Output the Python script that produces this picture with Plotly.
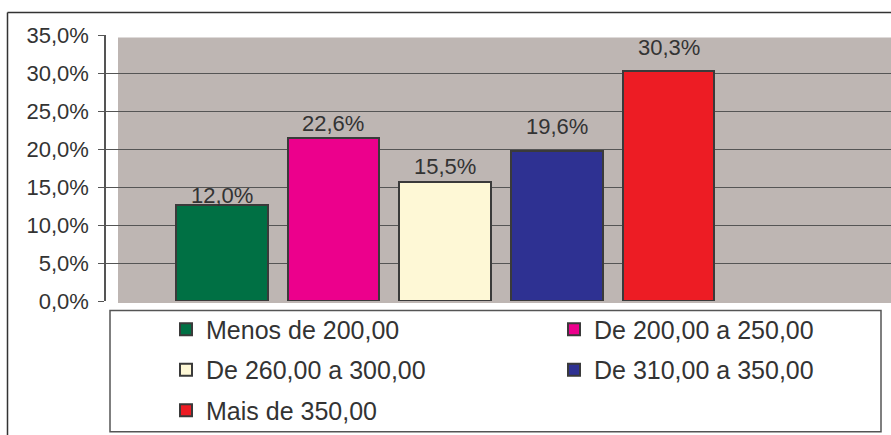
import plotly.graph_objects as go

# ---- data ----
categories = ["Menos de 200,00", "De 200,00 a 250,00", "De 260,00 a 300,00",
              "De 310,00 a 350,00", "Mais de 350,00"]
bar_heights = [12.6, 21.45, 15.6, 19.7, 30.25]          # as drawn (%)
bar_labels = ["12,0%", "22,6%", "15,5%", "19,6%", "30,3%"]  # as printed
tick_vals = [0, 5, 10, 15, 20, 25, 30, 35]
tick_labels = ["0,0%", "5,0%", "10,0%", "15,0%", "20,0%", "25,0%", "30,0%", "35,0%"]

# ---- style ----
colors = ["#007044", "#ec008c", "#fef8d6", "#2e3192", "#ed1c24"]
legend_ids = ["legend", "legend2", "legend", "legend2", "legend"]
label_shift_px = [10, 14.7, 15.6, 24.3, 23.7]   # label centre above bar top
W, H = 891, 435
L, R, T, B = 106, 0, 34.5, 134
FONT = "Liberation Sans, Arial, Helvetica, sans-serif"
TXT = "#333333"

pw = W - L - R
ph = H - T - B

def px_x(x):
    return (x - L) / pw

def px_y(y):
    return (H - B - y) / ph

fig = go.Figure()
for cat, h, col, lg in zip(categories, bar_heights, colors, legend_ids):
    fig.add_trace(go.Bar(
        x=[cat], y=[h], name=cat, width=0.82, legend=lg, legendgroup=cat,
        marker=dict(color=col, line=dict(color="#3a3a3a", width=2)),
        hoverinfo="skip",
    ))

annotations = [
    dict(x=cat, y=h, text=lab, showarrow=False, xref="x", yref="y",
         yanchor="middle", yshift=s,
         font=dict(family=FONT, size=22, color=TXT))
    for cat, h, lab, s in zip(categories, bar_heights, bar_labels, label_shift_px)
]

shapes = [
    # grey plot background
    dict(type="rect", xref="paper", yref="paper", layer="below",
         x0=px_x(118), x1=1.0, y0=px_y(303), y1=px_y(37),
         fillcolor="#beb6b3", line=dict(width=0)),
    # outer frame lines
    dict(type="line", xref="paper", yref="paper",
         x0=px_x(7.5), x1=px_x(7.5), y0=px_y(12), y1=px_y(436),
         line=dict(color="#333333", width=1.5)),
    dict(type="line", xref="paper", yref="paper",
         x0=px_x(7.5), x1=px_x(892), y0=px_y(12), y1=px_y(12),
         line=dict(color="#333333", width=1.5)),
    # legend frame
    dict(type="rect", xref="paper", yref="paper",
         x0=px_x(110), x1=px_x(881), y0=px_y(310.5), y1=px_y(432),
         line=dict(color="#555555", width=1.5), fillcolor="rgba(0,0,0,0)"),
]

leg_common = dict(orientation="v", xanchor="left", yanchor="top",
                  font=dict(family=FONT, size=25, color=TXT),
                  bgcolor="rgba(0,0,0,0)", borderwidth=0,
                  traceorder="grouped", tracegroupgap=5,
                  itemclick=False, itemdoubleclick=False)

fig.update_layout(
    width=W, height=H,
    margin=dict(l=L, r=R, t=T, b=B, pad=0, autoexpand=False),
    paper_bgcolor="white", plot_bgcolor="rgba(0,0,0,0)",
    barmode="overlay", bargap=0,
    font=dict(family=FONT, size=22, color=TXT),
    showlegend=True,
    legend=dict(x=px_x(166), y=px_y(306.5), **leg_common),
    legend2=dict(x=px_x(554), y=px_y(306.5), **leg_common),
    shapes=shapes,
    annotations=annotations,
)
fig.update_xaxes(range=[-1.036, 5.992], showticklabels=False, showgrid=False,
                 zeroline=False, showline=False, ticks="")
fig.update_yaxes(range=[0, 35], tickvals=tick_vals, ticktext=tick_labels,
                 showgrid=True, gridcolor="#555555", gridwidth=1.2,
                 zeroline=False, showline=True, linecolor="#555555", linewidth=1.5,
                 ticks="outside", ticklen=6, tickcolor="#555555",
                 ticklabelstandoff=5,
                 tickfont=dict(family=FONT, size=22, color=TXT))

fig.write_html("out.html", config={"displayModeBar": False},
               post_script="document.body.style.margin='0';")
